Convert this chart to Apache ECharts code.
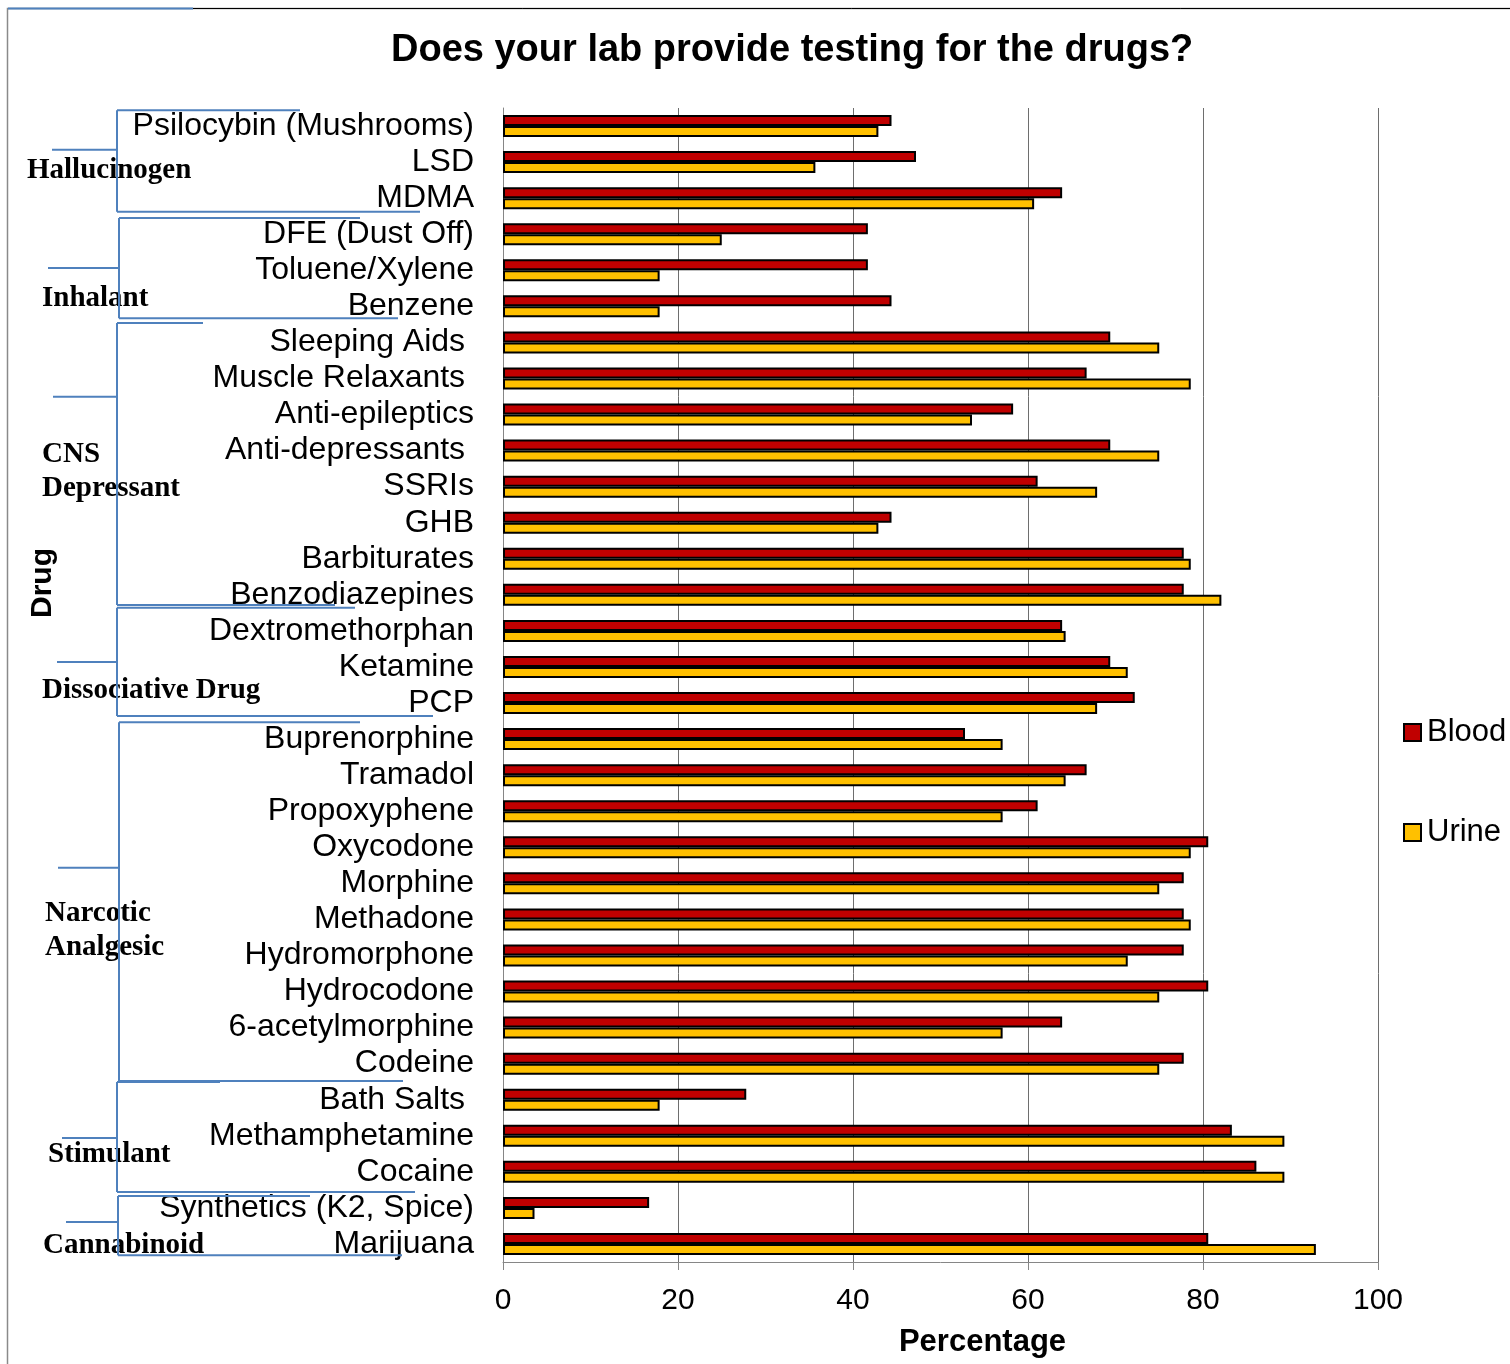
<!DOCTYPE html>
<html>
<head>
<meta charset="utf-8">
<script src="https://cdn.jsdelivr.net/npm/echarts@6/dist/echarts.min.js"></script>
<style>
  html, body { margin: 0; padding: 0; background: #fff; }
  #chart { width: 1510px; height: 1364px; }
</style>
</head>
<body>
<div id="chart"></div>
<script>
// Drugs, listed top to bottom
const drugs = [
  'Psilocybin (Mushrooms)', 'LSD', 'MDMA',
  'DFE (Dust Off)', 'Toluene/Xylene', 'Benzene',
  'Sleeping Aids ', 'Muscle Relaxants ', 'Anti-epileptics', 'Anti-depressants ',
  'SSRIs', 'GHB', 'Barbiturates', 'Benzodiazepines',
  'Dextromethorphan', 'Ketamine', 'PCP',
  'Buprenorphine', 'Tramadol', 'Propoxyphene', 'Oxycodone', 'Morphine',
  'Methadone', 'Hydromorphone', 'Hydrocodone', '6-acetylmorphine', 'Codeine',
  'Bath Salts ', 'Methamphetamine', 'Cocaine',
  'Synthetics (K2, Spice)', 'Marijuana'
];

// Percentage of labs testing in blood
const blood = [
  44.4, 47.2, 63.9,
  41.7, 41.7, 44.4,
  69.4, 66.7, 58.3, 69.4, 61.1, 44.4, 77.8, 77.8,
  63.9, 69.4, 72.2,
  52.8, 66.7, 61.1, 80.6, 77.8, 77.8, 77.8, 80.6, 63.9, 77.8,
  27.8, 83.3, 86.1,
  16.7, 80.6
];

// Percentage of labs testing in urine
const urine = [
  42.9, 35.7, 60.7,
  25.0, 17.9, 17.9,
  75.0, 78.6, 53.6, 75.0, 67.9, 42.9, 78.6, 82.1,
  64.3, 71.4, 67.9,
  57.1, 64.3, 57.1, 78.6, 75.0, 78.6, 71.4, 75.0, 57.1, 75.0,
  17.9, 89.3, 89.3,
  3.6, 92.9
];

const xTicks = [0, 20, 40, 60, 80, 100];

// Drug classes and the rows each one spans (first, last)
const groupNames = ['Hallucinogen', 'Inhalant', 'CNS\nDepressant', 'Dissociative Drug',
                    'Narcotic\nAnalgesic', 'Stimulant', 'Cannabinoid'];
const groupRanges = [[0, 2], [3, 5], [6, 13], [14, 16], [17, 26], [27, 29], [30, 31]];

// Bracket drawing: vertical extents in row units measured from the top edge
// (top, bottom, side tick, label centre), horizontal extents in pixels
// (spine, top arm end, bottom arm end, tick start, label left)
const bracketRows = [
  [0.06, 2.88, 1.16, 1.72],
  [3.05, 5.83, 4.44, 5.27],
  [5.96, 13.78, 8.01, 10.09],
  [13.86, 16.86, 15.36, 16.14],
  [17.03, 26.98, 21.07, 22.80],
  [27.01, 30.06, 28.56, 29.03],
  [30.17, 31.81, 30.89, 31.53]
];
const bracketCols = [
  [117, 300, 420, 52, 27],
  [119, 360, 398, 48, 42],
  [117, 203, 335, 53, 42],
  [117, 355, 433, 57, 42],
  [119, 360, 403, 58, 45],
  [117, 220, 415, 62, 48],
  [118, 310, 402, 66, 43]
];

const chart = echarts.init(document.getElementById('chart'), null, { renderer: 'canvas' });

const sans = '"Liberation Sans", Arial, sans-serif';
const barBorder = { borderColor: '#000', borderWidth: 2 };

chart.setOption({
  backgroundColor: '#fff',
  animation: false,
  title: {
    text: 'Does your lab provide testing for the drugs?',
    left: 386,
    top: 27,
    textStyle: { fontFamily: sans, fontSize: 38, fontWeight: 'bold', color: '#000' }
  },
  legend: {
    orient: 'vertical',
    left: 1403,
    top: 717,
    padding: 0,
    itemWidth: 17,
    itemHeight: 17,
    itemGap: 69,
    icon: 'rect',
    data: ['Blood', 'Urine'],
    textStyle: { fontFamily: sans, fontSize: 31, lineHeight: 31, color: '#000', padding: [0, 0, 0, 1] }
  },
  grid: { left: 503, right: 132, top: 108, bottom: 102, containLabel: false },
  xAxis: {
    type: 'value',
    min: xTicks[0],
    max: xTicks[xTicks.length - 1],
    interval: 20,
    name: 'Percentage',
    nameLocation: 'middle',
    nameGap: 65,
    nameTextStyle: { fontFamily: sans, fontSize: 31, fontWeight: 'bold', color: '#000', padding: [0, 0, 0, 84] },
    axisLine: { show: true, lineStyle: { color: '#868686', width: 1 } },
    axisTick: { show: true, length: 8, lineStyle: { color: '#868686' } },
    axisLabel: { fontFamily: sans, fontSize: 30, color: '#000', margin: 24 },
    splitLine: { show: true, lineStyle: { color: '#6e6e6e', width: 1 } }
  },
  yAxis: {
    type: 'category',
    inverse: true,
    data: drugs,
    name: 'Drug',
    nameLocation: 'middle',
    nameRotate: 90,
    nameGap: 445,
    nameTextStyle: { fontFamily: sans, fontSize: 30, fontWeight: 'bold', color: '#000', padding: [0, 0, 0, 204] },
    axisLine: { show: true, lineStyle: { color: '#868686', width: 1 } },
    axisTick: { show: false },
    axisLabel: { fontFamily: sans, fontSize: 32, color: '#000', margin: 29, interval: 0, padding: [8, 0, 0, 0] },
    splitLine: { show: false }
  },
  series: [
    {
      name: 'Blood',
      type: 'bar',
      data: blood,
      barWidth: 11,
      barGap: '0%',
      itemStyle: Object.assign({ color: '#c00000' }, barBorder)
    },
    {
      name: 'Urine',
      type: 'bar',
      data: urine,
      barWidth: 11,
      barGap: '0%',
      itemStyle: Object.assign({ color: '#ffc000' }, barBorder)
    }
  ]
});

// Class brackets on the left, placed from the category axis positions
function rowToY(u) {
  const c0 = chart.convertToPixel({ yAxisIndex: 0 }, 0);
  const c1 = chart.convertToPixel({ yAxisIndex: 0 }, 1);
  const band = c1 - c0;
  return c0 - band / 2 + u * band;
}

const blue = '#4f81bd';
const labelLineHeight = 34;
const graphics = [];

// outer frame
graphics.push({
  type: 'rect', z: 200, silent: true,
  shape: { x: 7.5, y: 8.5, width: 1520, height: 1380 },
  style: { fill: null, stroke: '#8a8a8a', lineWidth: 1.5 }
});
graphics.push({
  type: 'line', z: 201, silent: true,
  shape: { x1: 193, y1: 8.5, x2: 1510, y2: 8.5 },
  style: { stroke: '#000', lineWidth: 1 }
});
graphics.push({
  type: 'line', z: 202, silent: true,
  shape: { x1: 8, y1: 8.5, x2: 193, y2: 8.5 },
  style: { stroke: blue, lineWidth: 2 }
});

groupNames.forEach(function (name, i) {
  const r = bracketRows[i];
  const c = bracketCols[i];
  const yTop = rowToY(r[0]);
  const yBot = rowToY(r[1]);
  const yTick = rowToY(r[2]);
  const lines = name.split('\n').length;
  const yLabelTop = rowToY(r[3]) - lines * labelLineHeight / 2;
  graphics.push({
    type: 'text', z: 100, silent: true,
    style: {
      text: name, x: c[4], y: yLabelTop,
      font: 'bold 29px "Liberation Serif", "Times New Roman", serif',
      fill: '#000', verticalAlign: 'top', align: 'left', lineHeight: labelLineHeight
    }
  });
  const lineStyle = { stroke: blue, lineWidth: 2 };
  graphics.push({ type: 'line', z: 110, silent: true, shape: { x1: c[0], y1: yTop, x2: c[0], y2: yBot }, style: lineStyle });
  graphics.push({ type: 'line', z: 110, silent: true, shape: { x1: c[0], y1: yTop, x2: c[1], y2: yTop }, style: lineStyle });
  graphics.push({ type: 'line', z: 110, silent: true, shape: { x1: c[0], y1: yBot, x2: c[2], y2: yBot }, style: lineStyle });
  graphics.push({ type: 'line', z: 110, silent: true, shape: { x1: c[3], y1: yTick, x2: c[0], y2: yTick }, style: lineStyle });
});

chart.setOption({ graphic: graphics });
</script>
</body>
</html>
